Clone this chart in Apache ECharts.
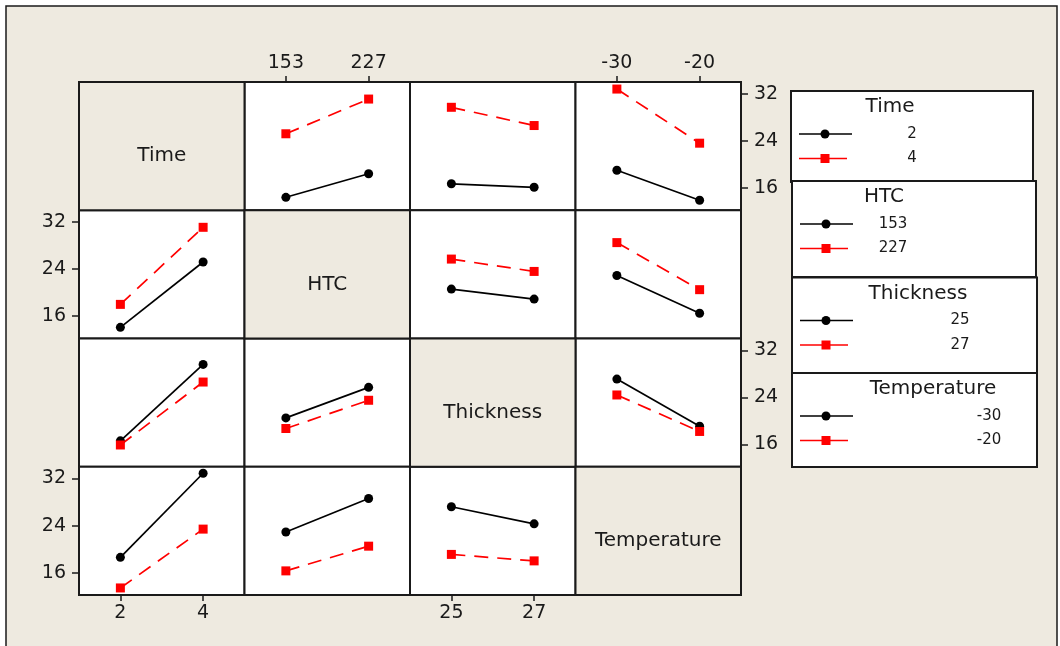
<!DOCTYPE html>
<html>
<head>
<meta charset="utf-8">
<script src="https://cdn.jsdelivr.net/npm/echarts@6/dist/echarts.min.js"></script>
<style>
  html, body { margin: 0; padding: 0; background: #ffffff; }
  #chart { width: 1060px; height: 646px; }
</style>
</head>
<body>
<div id="chart"></div>
<script>
// Factors and their two levels
const factorNames = ['Time', 'HTC', 'Thickness', 'Temperature'];
const factorLevels = [[2, 4], [153, 227], [25, 27], [-30, -20]];
const yTicks = [16, 24, 32];

// Mean response: one row per level of the trace factor, values at the two levels of the x factor
const timeByHtc   = [[14.4, 18.4], [25.2, 31.1]];
const timeByThick = [[16.7, 16.1], [29.7, 26.6]];
const timeByTemp  = [[19.0, 13.9], [32.8, 23.6]];

const htcByTime   = [[14.1, 25.2], [18.0, 31.1]];
const htcByThick  = [[20.6, 18.9], [25.7, 23.6]];
const htcByTemp   = [[22.9, 16.5], [28.5, 20.5]];

const thickByTime = [[16.6, 29.6], [15.9, 26.6]];
const thickByHtc  = [[20.5, 25.7], [18.7, 23.5]];
const thickByTemp = [[27.1, 19.1], [24.4, 18.2]];

const tempByTime  = [[18.6, 32.9], [13.4, 23.4]];
const tempByHtc   = [[22.9, 28.6], [16.3, 20.5]];
const tempByThick = [[27.2, 24.3], [19.1, 18.0]];

// cell lookup: [trace factor][x factor]
const cellMeans = [
  [null, timeByHtc, timeByThick, timeByTemp],
  [htcByTime, null, htcByThick, htcByTemp],
  [thickByTime, thickByHtc, null, thickByTemp],
  [tempByTime, tempByHtc, tempByThick, null]
];

const FONT = 'DejaVu Sans';
const BEIGE = '#EEEAE0';
const INK = '#1a1a1a';
const RED = '#ff0000';

const cellLeft = 79, cellTop = 82, cellW = 165.5, cellH = 128.25;
const yMin = 12.2, yMax = 34.0;

const grids = [], xAxes = [], yAxes = [], series = [], graphics = [];

// outer panel
graphics.push({
  type: 'rect', z: -10,
  shape: { x: 6, y: 6, width: 1051, height: 670 },
  style: { fill: BEIGE, stroke: INK, lineWidth: 1.5 }
});

for (let r = 0; r < 4; r++) {
  for (let c = 0; c < 4; c++) {
    const x0 = cellLeft + c * cellW;
    const y0 = cellTop + r * cellH;
    if (r === c) {
      graphics.push({
        type: 'rect', z: 1,
        shape: { x: x0, y: y0, width: cellW, height: cellH },
        style: { fill: BEIGE, stroke: INK, lineWidth: 2 }
      });
      graphics.push({
        type: 'text', z: 2,
        x: x0 + cellW / 2, y: y0 + cellH / 2 + 10,
        style: {
          text: factorNames[r], font: '20px "' + FONT + '"', fill: INK,
          align: 'center', verticalAlign: 'middle'
        }
      });
      continue;
    }
    const gi = grids.length;
    grids.push({
      left: x0, top: y0, width: cellW, height: cellH,
      show: true, backgroundColor: '#ffffff', borderColor: INK, borderWidth: 2,
      containLabel: false
    });
    const xTop = (c % 2 === 1);
    const showX = (xTop && r === 0) || (!xTop && r === 3);
    xAxes.push({
      gridIndex: gi, type: 'category', boundaryGap: true,
      data: factorLevels[c].map(String),
      position: xTop ? 'top' : 'bottom',
      axisLine: { show: false },
      axisTick: { show: showX, alignWithLabel: true, length: 6, lineStyle: { color: INK, width: 1.5 } },
      axisLabel: { show: showX, fontFamily: FONT, fontSize: 19, color: INK, margin: 9 },
      splitLine: { show: false }
    });
    const yRight = (r % 2 === 0);
    const showY = (yRight && c === 3) || (!yRight && c === 0);
    yAxes.push({
      gridIndex: gi, type: 'value', min: yMin, max: yMax,
      position: yRight ? 'right' : 'left',
      axisLine: { show: false },
      axisTick: { show: showY, length: 7, customValues: yTicks, lineStyle: { color: INK, width: 1.5 } },
      axisLabel: { show: showY, customValues: yTicks, fontFamily: FONT, fontSize: 19, color: INK, margin: 13 },
      splitLine: { show: false }
    });
    const means = cellMeans[r][c];
    means.forEach((vals, k) => {
      const col = k === 0 ? '#000000' : RED;
      series.push({
        type: 'line',
        name: factorNames[r] + ' ' + factorLevels[r][k],
        xAxisIndex: gi, yAxisIndex: gi,
        data: vals,
        symbol: k === 0 ? 'circle' : 'rect',
        symbolSize: 9,
        showSymbol: true,
        lineStyle: { color: col, width: 1.7, type: k === 0 ? 'solid' : [14, 9] },
        itemStyle: { color: col },
        silent: true,
        z: 3
      });
    });
  }
}

// legend panels, one per trace factor
const legendBoxes = [
  { x: 791, y: 91,    w: 242, h: 91, titleX: 890, labelX: 912 },
  { x: 792, y: 181,   w: 244, h: 96, titleX: 884, labelX: 893 },
  { x: 792, y: 277.5, w: 245, h: 96, titleX: 918, labelX: 960 },
  { x: 792, y: 373,   w: 245, h: 94, titleX: 933, labelX: 989 }
];
legendBoxes.forEach((b, i) => {
  graphics.push({
    type: 'rect', z: 5,
    shape: { x: b.x, y: b.y, width: b.w, height: b.h },
    style: { fill: '#ffffff', stroke: INK, lineWidth: 2 }
  });
  graphics.push({
    type: 'text', z: 6, x: b.titleX, y: b.y + 16,
    style: { text: factorNames[i], font: '20px "' + FONT + '"', fill: INK, align: 'center', verticalAlign: 'middle' }
  });
  factorLevels[i].forEach((lv, k) => {
    const yy = b.y + 43 + k * 24.5;
    const col = k === 0 ? '#000000' : RED;
    const lx = b.x + 8;
    graphics.push({
      type: 'line', z: 6,
      shape: { x1: lx, y1: yy, x2: lx + (k === 0 ? 53 : 48), y2: yy },
      style: { stroke: col, lineWidth: 1.7 }
    });
    if (k === 0) {
      graphics.push({ type: 'circle', z: 7, shape: { cx: lx + 26, cy: yy, r: 4.5 }, style: { fill: col } });
    } else {
      graphics.push({ type: 'rect', z: 7, shape: { x: lx + 21.5, y: yy - 4.5, width: 9, height: 9 }, style: { fill: col } });
    }
    graphics.push({
      type: 'text', z: 7, x: b.labelX, y: yy,
      style: { text: String(lv), font: '15px "' + FONT + '"', fill: INK, align: 'center', verticalAlign: 'middle' }
    });
  });
});

const chart = echarts.init(document.getElementById('chart'), null, { renderer: 'canvas' });
chart.setOption({
  backgroundColor: '#ffffff',
  animation: false,
  grid: grids,
  xAxis: xAxes,
  yAxis: yAxes,
  series: series,
  graphic: { elements: graphics }
});
</script>
</body>
</html>
